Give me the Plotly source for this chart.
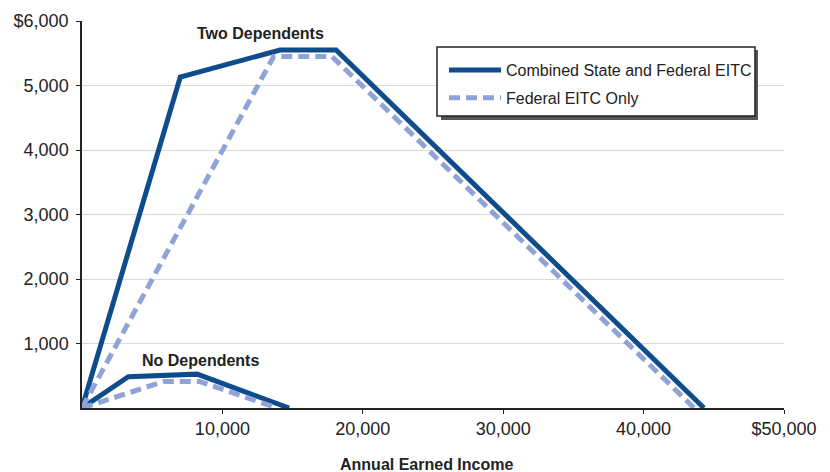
import plotly.graph_objects as go

# Data
two_combined_x = [0, 7000, 14100, 18100, 44300]
two_combined_y = [0, 5130, 5550, 5550, 0]
two_federal_x = [0, 13650, 17800, 43600]
two_federal_y = [0, 5450, 5450, 0]
none_combined_x = [0, 3300, 8200, 14750]
none_combined_y = [0, 485, 525, 0]
none_federal_x = [0, 5800, 8400, 13900]
none_federal_y = [0, 410, 410, 0]

x_tickvals = [10000, 20000, 30000, 40000, 50000]
x_ticktext = ["10,000", "20,000", "30,000", "40,000", "$50,000"]
y_tickvals = [1000, 2000, 3000, 4000, 5000, 6000]
y_ticktext = ["1,000", "2,000", "3,000", "4,000", "5,000", "$6,000"]

SOLID = "#0F4C8C"
DASH = "#8FA3D6"
FONT = "Liberation Sans, Arial, sans-serif"
LW = 5
DASHSTYLE = "11px,6px"

# page has an 8px body margin: figure is shifted by (8, 8)
OFF = 8
W, H = 830 - OFF, 472 - OFF
L, R, T, B = 74, 46, 13, 64
PW, PH = W - L - R, H - T - B


def px(x_page):
    return (x_page - OFF - L) / PW


def py(y_page):
    return (H - B - (y_page - OFF)) / PH


fig = go.Figure()
fig.add_trace(go.Scatter(x=two_combined_x, y=two_combined_y, mode="lines",
                         line=dict(color=SOLID, width=LW),
                         name="Combined State and Federal EITC", legendgroup="c"))
fig.add_trace(go.Scatter(x=none_combined_x, y=none_combined_y, mode="lines",
                         line=dict(color=SOLID, width=LW),
                         name="Combined State and Federal EITC", legendgroup="c", showlegend=False))
fig.add_trace(go.Scatter(x=two_federal_x, y=two_federal_y, mode="lines",
                         line=dict(color=DASH, width=LW, dash=DASHSTYLE),
                         name="Federal EITC Only", legendgroup="f"))
fig.add_trace(go.Scatter(x=none_federal_x, y=none_federal_y, mode="lines",
                         line=dict(color=DASH, width=LW, dash=DASHSTYLE),
                         name="Federal EITC Only", legendgroup="f", showlegend=False))

fig.add_annotation(x=12690, y=5800, text="<b>Two Dependents</b>", showarrow=False,
                   font=dict(size=16, color="#222222", family=FONT))
fig.add_annotation(x=8450, y=744, text="<b>No Dependents</b>", showarrow=False,
                   font=dict(size=16, color="#222222", family=FONT))
# x-axis title
fig.add_annotation(xref="paper", yref="paper", x=px(426.5), y=py(464),
                   xanchor="center", yanchor="middle", showarrow=False,
                   text="<b>Annual Earned Income</b>",
                   font=dict(size=16, color="#222222", family=FONT))

# legend shadow and box
fig.add_shape(type="rect", xref="paper", yref="paper",
              x0=px(441), x1=px(758), y0=py(120), y1=py(50),
              fillcolor="#555555", line=dict(width=0), layer="above")
fig.add_shape(type="rect", xref="paper", yref="paper",
              x0=px(437), x1=px(755), y0=py(116), y1=py(47),
              fillcolor="white", line=dict(color="#222222", width=1.5), layer="above")

fig.update_layout(
    width=W, height=H,
    margin=dict(l=L, r=R, t=T, b=B, autoexpand=False),
    paper_bgcolor="white", plot_bgcolor="white",
    font=dict(family=FONT, color="#222222"),
    showlegend=True,
    legend=dict(x=px(444), y=py(53), xanchor="left", yanchor="top",
                bgcolor="rgba(0,0,0,0)", borderwidth=0,
                font=dict(size=16, family=FONT, color="#222222"),
                itemwidth=52, tracegroupgap=4),
    xaxis=dict(range=[0, 50000], tickvals=x_tickvals, ticktext=x_ticktext,
               showgrid=False, zeroline=False, showline=True, linecolor="#222222",
               linewidth=1.5, ticks="outside", ticklen=4, tickcolor="#222222",
               automargin=False, tickfont=dict(size=18)),
    yaxis=dict(range=[0, 6000], tickvals=y_tickvals, ticktext=y_ticktext,
               showgrid=True, gridcolor="#D9D9D9", gridwidth=1, zeroline=False,
               automargin=False, ticklabelstandoff=4,
               showline=True, linecolor="#222222", linewidth=1.5, ticks="outside",
               ticklen=4, tickcolor="#222222", tickfont=dict(size=18)),
)

fig.write_html("out.html")
